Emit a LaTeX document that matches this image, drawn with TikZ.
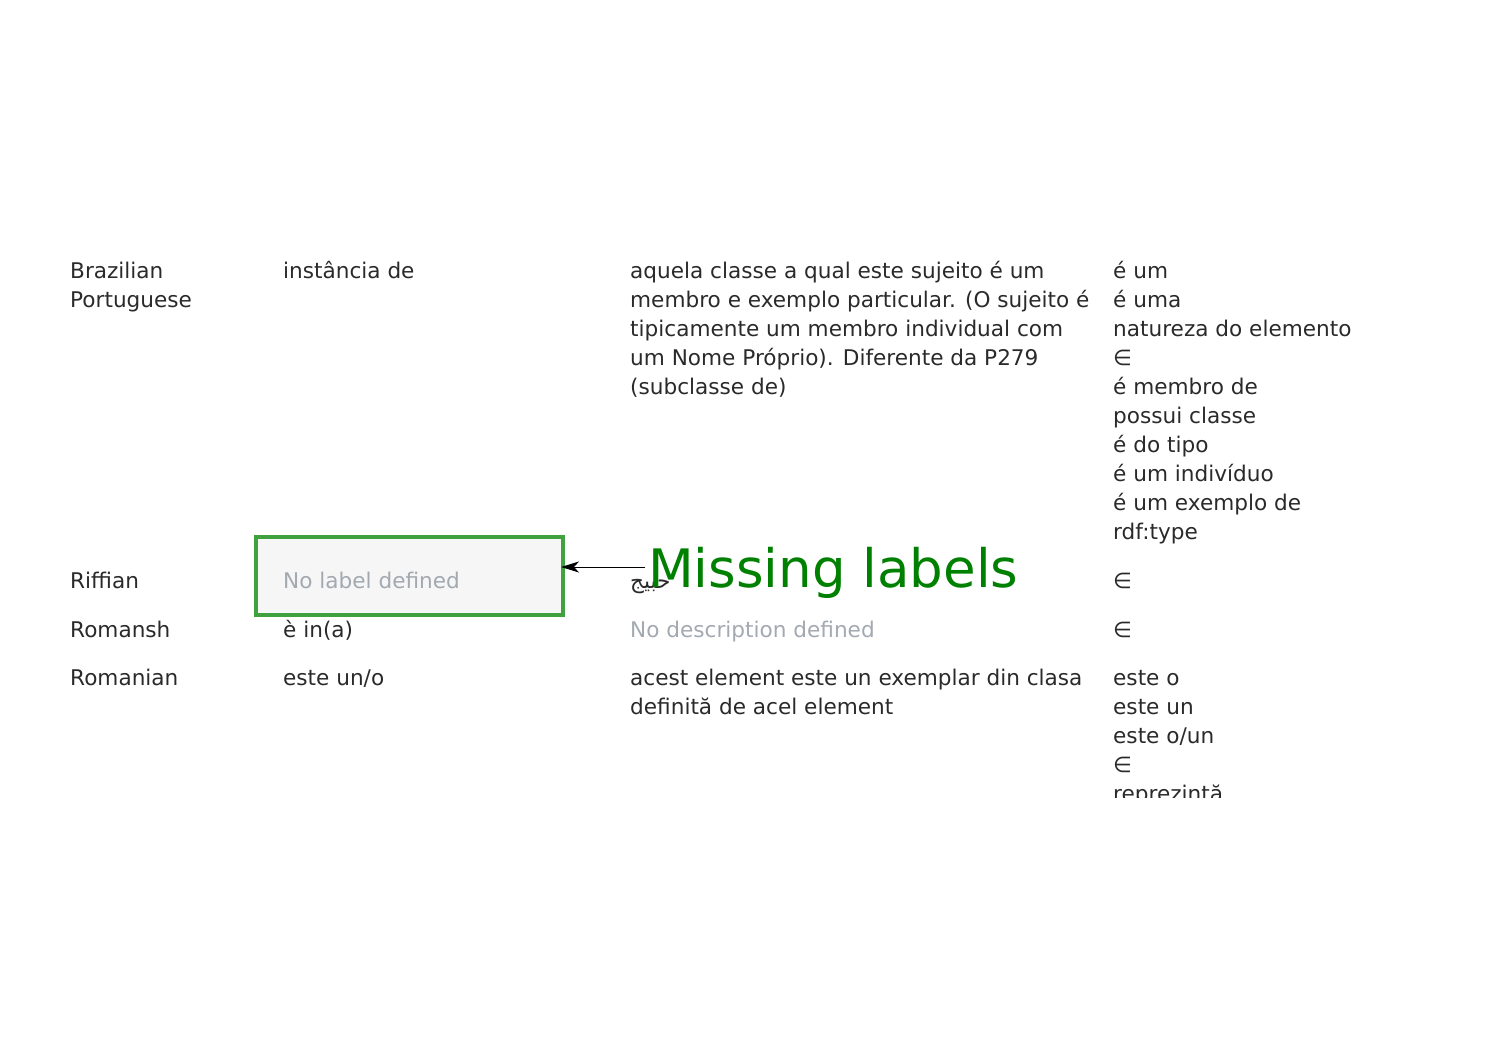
\documentclass[tikz,border=0pt]{standalone}
\usepackage{fontspec}
\setmainfont{DejaVu Sans}
\newfontfamily\arabicfont[Script=Arabic]{DejaVu Sans}
\TeXXeTstate=1
\usetikzlibrary{arrows.meta}
\definecolor{txt}{HTML}{2A2A2A}
\definecolor{grayt}{HTML}{A2A9B1}
\definecolor{boxgreen}{HTML}{3FA23F}
\definecolor{boxfill}{HTML}{F6F6F6}
\definecolor{biggreen}{HTML}{008000}
\tikzset{
  cell/.style={anchor=base west, inner sep=0pt, text=txt, font=\fontsize{21.6}{29}\selectfont},
  graycell/.style={cell, text=grayt},
  missbox/.style={draw=boxgreen, line width=4pt, fill=boxfill},
  callout/.style={anchor=base west, inner sep=0pt, text=biggreen, font=\fontsize{53}{60}\selectfont},
  pointer/.style={-{Stealth[length=18pt,width=11pt,inset=5pt]}, black, line width=1pt}
}
\begin{document}
\begin{tikzpicture}[x=1pt,y=-1pt]
\useasboundingbox (0,0) rectangle (1485,1050);
% Brazilian Portuguese row
\node[cell] (l1a) at (70,278) {Brazilian};
\node[cell] (l1b) at (70,307) {Portuguese};
\node[cell] (p1) at (283,278) {instância de};
\node[cell] (d1a) at (630,278) {aquela classe a qual este sujeito é um};
\node[cell] (d1b) at (630,307) {membro e exemplo particular. (O sujeito é};
\node[cell] (d1c) at (630,336) {tipicamente um membro individual com};
\node[cell] (d1d) at (630,365) {um Nome Próprio). Diferente da P279};
\node[cell] (d1e) at (630,394) {(subclasse de)};
\node[cell] (a1a) at (1113,278) {é um};
\node[cell] (a1b) at (1113,307) {é uma};
\node[cell] (a1c) at (1113,336) {natureza do elemento};
\node[cell] (a1d) at (1113,365) {∈};
\node[cell] (a1e) at (1113,394) {é membro de};
\node[cell] (a1f) at (1113,423) {possui classe};
\node[cell] (a1g) at (1113,452) {é do tipo};
\node[cell] (a1h) at (1113,481) {é um indivíduo};
\node[cell] (a1i) at (1113,510) {é um exemplo de};
\node[cell] (a1j) at (1113,539) {rdf:type};
% Riffian row
\node[cell] (l2) at (70,588) {Riffian};
\draw[missbox] (256,537) rectangle (563,615);
\node[graycell] (p2) at (283,588) {No label defined};
\coordinate (boxedge) at (561,567);
\node[cell] (d2) at (630,588) {\arabicfont\beginR حبيج\endR};
\node[cell] (a2) at (1113,588) {∈};
% Romansh row
\node[cell] (l3) at (70,637) {Romansh};
\node[cell] (p3) at (283,637) {è in(a)};
\node[graycell] (d3) at (630,637) {No description defined};
\node[cell] (a3) at (1113,637) {∈};
% Romanian row
\node[cell] (l4) at (70,685) {Romanian};
\node[cell] (p4) at (283,685) {este un/o};
\node[cell] (d4a) at (630,685) {acest element este un exemplar din clasa};
\node[cell] (d4b) at (630,714) {definită de acel element};
\begin{scope}
\clip (1100,650) rectangle (1400,797);
\node[cell] (a4a) at (1113,685) {este o};
\node[cell] (a4b) at (1113,714) {este un};
\node[cell] (a4c) at (1113,743) {este o/un};
\node[cell] (a4d) at (1113,772) {∈};
\node[cell] (a4e) at (1113,801) {reprezintă};
\end{scope}
% callout
\coordinate (arrstart) at (645,567);
\draw[pointer] (arrstart) -- (boxedge);
\node[callout] (miss) at (648,587) {Missing labels};
\end{tikzpicture}
\end{document}
